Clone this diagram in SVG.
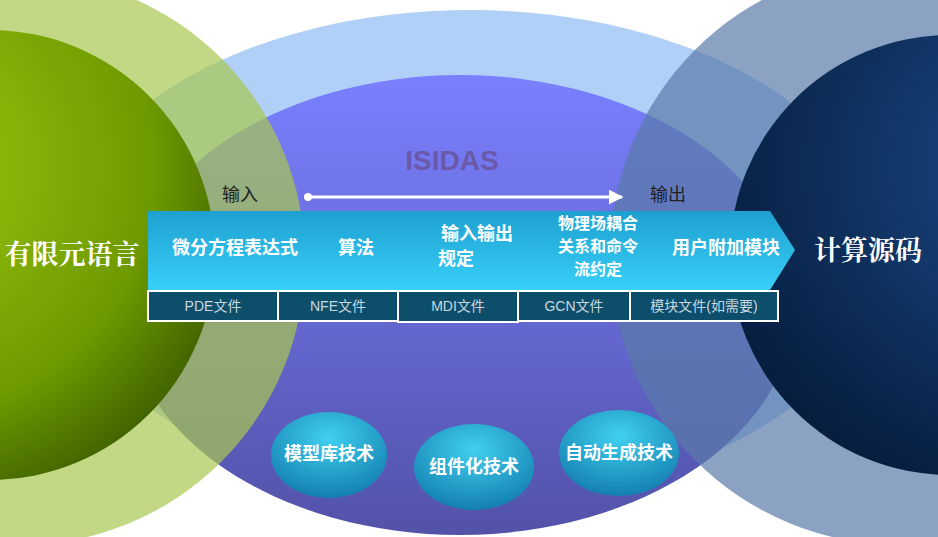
<svg xmlns="http://www.w3.org/2000/svg" width="938" height="537" viewBox="0 0 938 537">
<defs>
<radialGradient id="gl" cx="0.3" cy="0.3" r="0.8"><stop offset="0" stop-color="#9cc810"/><stop offset="0.7" stop-color="#6e9a00"/><stop offset="1" stop-color="#3e6000"/></radialGradient>
<radialGradient id="gr" cx="0.7" cy="0.3" r="0.8"><stop offset="0" stop-color="#1a4a88"/><stop offset="1" stop-color="#061c3c"/></radialGradient>
<linearGradient id="gp" x1="0" y1="0" x2="0" y2="1"><stop offset="0" stop-color="#7a80ff"/><stop offset="1" stop-color="#5252a8"/></linearGradient>
<linearGradient id="gc" x1="0" y1="0" x2="0" y2="1"><stop offset="0" stop-color="#1ea0d0"/><stop offset="1" stop-color="#38d0f8"/></linearGradient>
<radialGradient id="gb" cx="0.5" cy="0.3" r="0.7"><stop offset="0" stop-color="#40d0f0"/><stop offset="1" stop-color="#1480b0"/></radialGradient>
<marker id="ar" viewBox="0 0 10 10" refX="9" refY="5" markerWidth="5" markerHeight="5" orient="auto"><path d="M0,0L10,5L0,10z" fill="#fff"/></marker>
<style>
.cv{fill:url(#gc)}
.t{font-family:"Noto Sans CJK SC",sans-serif;font-weight:bold;fill:#fff;font-size:18px;text-anchor:middle}
.s{font-size:16px}
.b{fill:#0d4f6a;stroke:#fff;stroke-width:2}
.bt{font-family:"Liberation Sans","Noto Sans CJK SC",sans-serif;fill:#c8d8e0;font-size:14px;text-anchor:middle}
.e{fill:url(#gb)}
</style>
</defs>
<rect width="938" height="537" fill="#fff"/>
<ellipse cx="470" cy="255" rx="410" ry="245" fill="#b0d0f8"/>
<ellipse cx="460" cy="305" rx="335" ry="230" fill="url(#gp)"/>
<circle cx="20" cy="260" r="285" fill="#a8c850" opacity="0.7"/>
<circle cx="-10" cy="255" r="225" fill="url(#gl)"/>
<circle cx="900" cy="255" r="290" fill="#5a7aa8" opacity="0.7"/>
<circle cx="950" cy="255" r="220" fill="url(#gr)"/>
<text x="452" y="170" font-family="Liberation Sans,sans-serif" font-weight="bold" font-size="28" fill="#6a58a8" text-anchor="middle">ISIDAS</text>
<g id="connectors"><line x1="308" y1="197" x2="622" y2="197" stroke="#fff" stroke-width="3" marker-end="url(#ar)"/><circle cx="308" cy="197" r="4" fill="#fff"/></g>
<text x="240" y="201" font-family="Noto Sans CJK SC,sans-serif" font-size="18" fill="#222" text-anchor="middle">输入</text>
<text x="668" y="201" font-family="Noto Sans CJK SC,sans-serif" font-size="18" fill="#222" text-anchor="middle">输出</text>
<g id="chevrons">
<path class="cv" d="M148,211H280L305,250L280,290H148z"/>
<path class="cv" d="M275,211H400L425,250L400,290H275L300,250z"/>
<path class="cv" d="M395,211H520L545,250L520,290H395L420,250z"/>
<path class="cv" d="M515,211H640L665,250L640,290H515L540,250z"/>
<path class="cv" d="M635,211H770L795,250L770,290H635L660,250z"/>
<text class="t" x="235" y="254">微分方程表达式</text>
<text class="t" x="356" y="254">算法</text>
<text class="t" x="477" y="240">输入输出</text><text class="t" x="456" y="265">规定</text>
<text class="t s" x="598" y="229">物理场耦合</text><text class="t s" x="598" y="252">关系和命令</text><text class="t s" x="598" y="275">流约定</text>
<text class="t" x="726" y="254">用户附加模块</text>
</g>
<g id="boxes">
<rect class="b" x="148" y="291" width="130" height="30"/><text class="bt" x="213" y="311">PDE文件</text>
<rect class="b" x="278" y="291" width="120" height="30"/><text class="bt" x="338" y="311">NFE文件</text>
<rect class="b" x="398" y="291" width="120" height="31"/><text class="bt" x="458" y="311">MDI文件</text>
<rect class="b" x="518" y="291" width="112" height="30"/><text class="bt" x="574" y="311">GCN文件</text>
<rect class="b" x="630" y="291" width="148" height="30"/><text class="bt" x="704" y="311">模块文件(如需要)</text>
</g>
<text x="72" y="264" font-family="Noto Serif CJK SC,Noto Sans CJK SC,serif" font-weight="bold" font-size="27" fill="#fff" text-anchor="middle">有限元语言</text>
<text x="868" y="260" font-family="Noto Serif CJK SC,Noto Sans CJK SC,serif" font-weight="bold" font-size="27" fill="#fff" text-anchor="middle">计算源码</text>
<g id="n1"><ellipse class="e" cx="329" cy="455" rx="58" ry="43"/><text class="t" x="329" y="460">模型库技术</text></g>
<g id="n2"><ellipse class="e" cx="474" cy="467" rx="60" ry="43"/><text class="t" x="474" y="473">组件化技术</text></g>
<g id="n3"><ellipse class="e" cx="619" cy="453" rx="60" ry="43"/><text class="t" x="619" y="459">自动生成技术</text></g>
</svg>
